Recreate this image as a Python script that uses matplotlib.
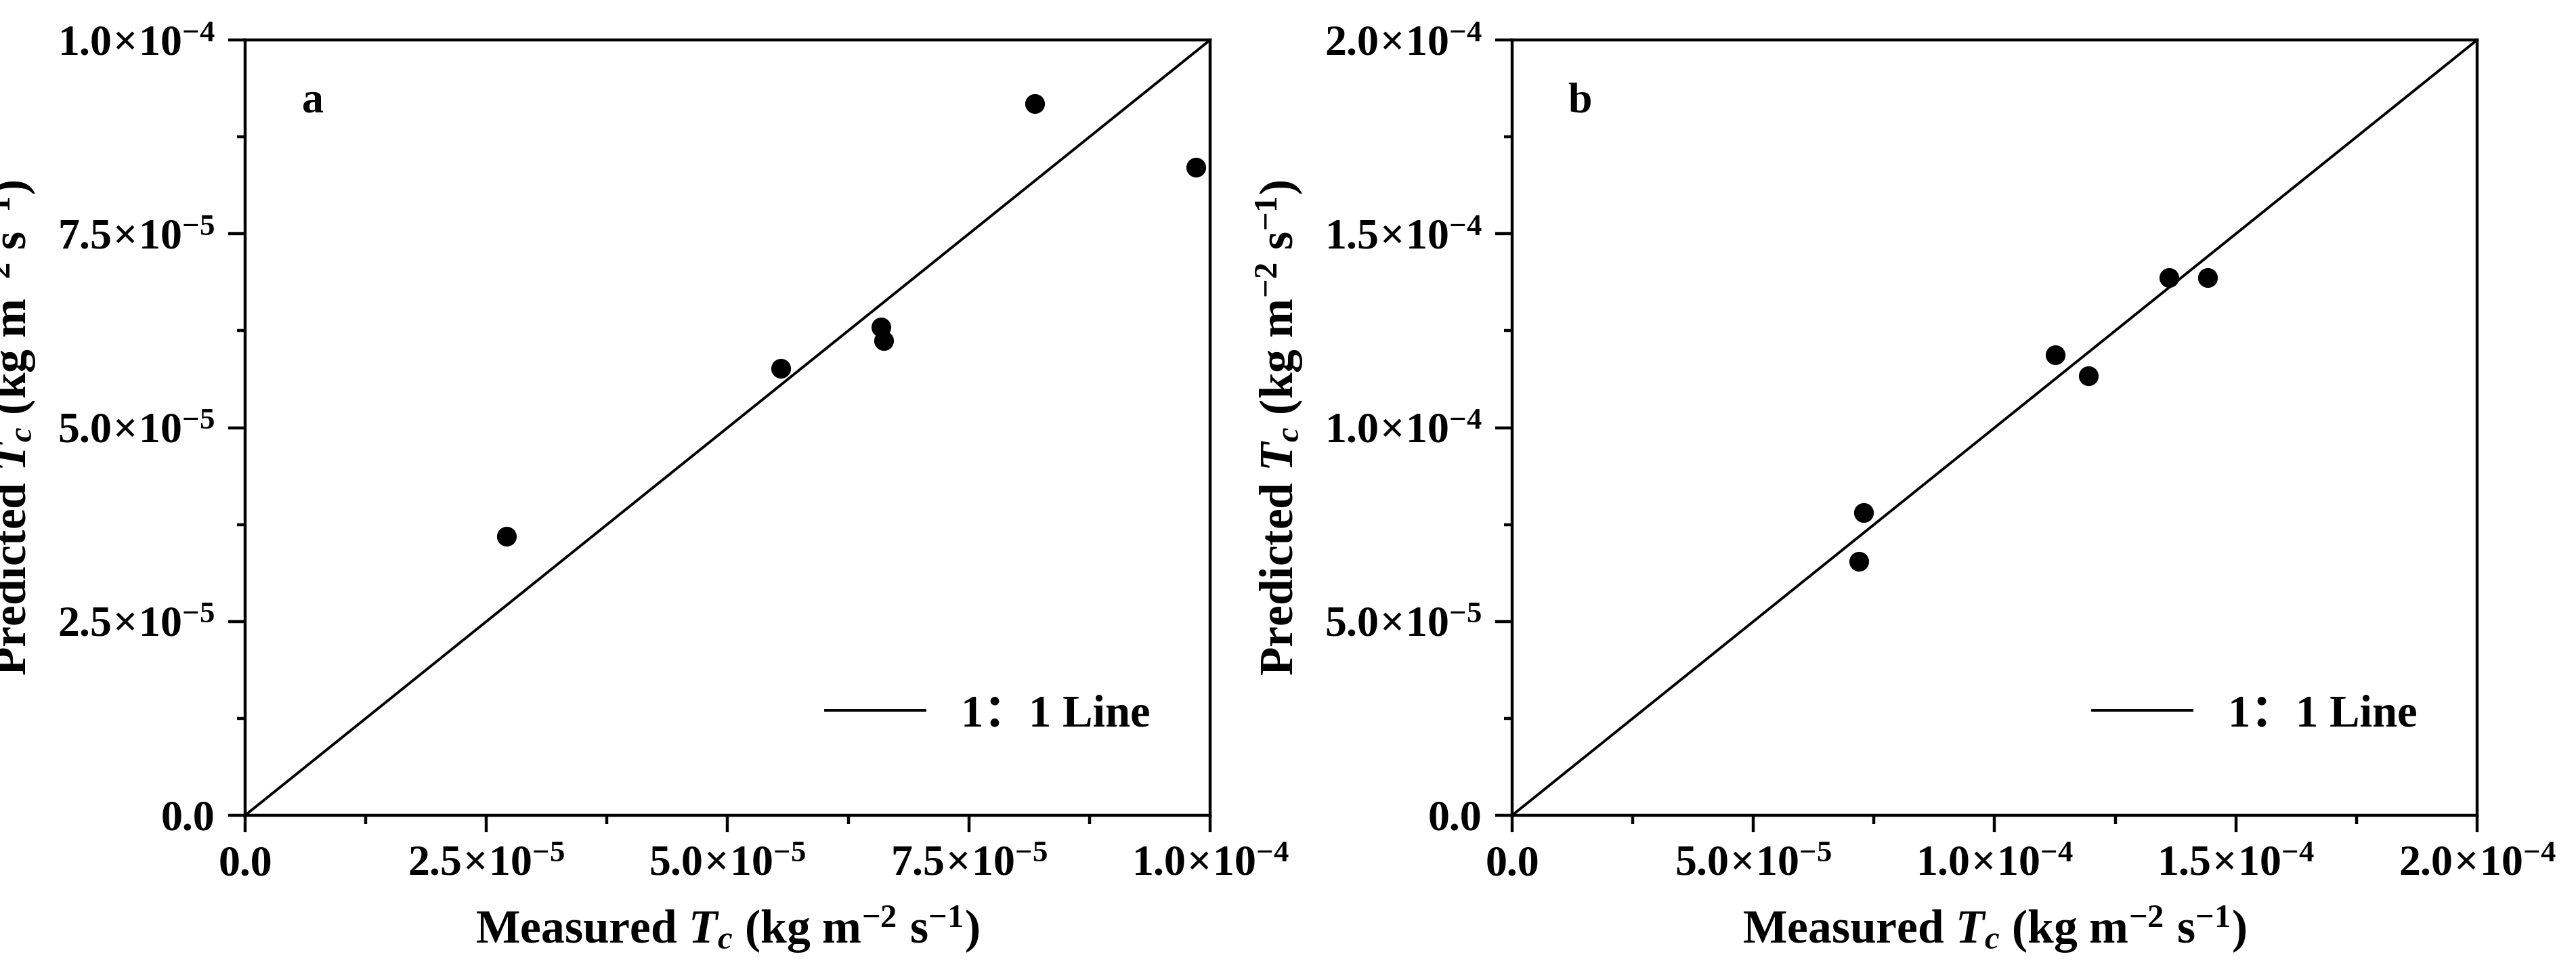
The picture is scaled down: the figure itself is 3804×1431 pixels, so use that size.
import matplotlib
matplotlib.use("Agg")
import matplotlib.pyplot as plt
from matplotlib.ticker import FixedLocator, AutoMinorLocator, FuncFormatter

# Panel a
meas_a = [2.71e-5, 5.55e-5, 6.59e-5, 6.62e-5, 8.18e-5, 9.85e-5]
pred_a = [3.60e-5, 5.76e-5, 6.30e-5, 6.12e-5, 9.18e-5, 8.36e-5]
ticks_a = [0.0, 2.5e-5, 5.0e-5, 7.5e-5, 1.0e-4]
lim_a = 1.0e-4

# Panel b
meas_b = [7.19e-5, 7.29e-5, 1.125e-4, 1.195e-4, 1.362e-4, 1.441e-4]
pred_b = [6.55e-5, 7.81e-5, 1.187e-4, 1.133e-4, 1.387e-4, 1.387e-4]
ticks_b = [0.0, 5.0e-5, 1.0e-4, 1.5e-4, 2.0e-4]
lim_b = 2.0e-4

plt.rcParams["font.family"] = ["Liberation Serif", "Noto Sans CJK SC"]
plt.rcParams["font.weight"] = "bold"
plt.rcParams["mathtext.fontset"] = "custom"
plt.rcParams["mathtext.rm"] = "Liberation Serif:bold"
plt.rcParams["mathtext.it"] = "Liberation Serif:bold:italic"
plt.rcParams["mathtext.bf"] = "Liberation Serif:bold"

FS = 46


def sci(v, pos=None):
    if v == 0:
        return "0.0"
    exp = int(f"{v:e}".split("e")[1])
    mant = v / 10 ** exp
    return r"$%.1f\!\times\!10^{%d}$" % (mant, exp)


fig = plt.figure(figsize=(38.05, 14.31), dpi=100)
W, H = 3805, 1431
panels = [
    (362, meas_a, pred_a, ticks_a, lim_a, "a"),
    (2233, meas_b, pred_b, ticks_b, lim_b, "b"),
]
for left, xs, ys, ticks, lim, tag in panels:
    ax = fig.add_axes([left / W, (H - 1204) / H, 1425 / W, 1145 / H])
    ax.plot([0, lim], [0, lim], color="black", lw=2.8, label="1：1 Line")
    ax.plot(xs, ys, "o", color="black", ms=20, ls="none")
    ax.set_xlim(0, lim)
    ax.set_ylim(0, lim)
    for axis in (ax.xaxis, ax.yaxis):
        axis.set_major_locator(FixedLocator(ticks))
        axis.set_minor_locator(AutoMinorLocator(2))
        axis.set_major_formatter(FuncFormatter(sci))
    ax.tick_params(which="major", direction="out", length=18, width=3.2,
                   labelsize=FS, pad=14)
    ax.tick_params(which="minor", direction="out", length=9, width=3.2)
    for s in ax.spines.values():
        s.set_linewidth(3.2)
    ax.set_xlabel(r"Measured $T_c$ (kg m$^{-2}$ s$^{-1}$)", fontsize=FS + 4,
                  fontweight="bold")
    ax.set_ylabel(r"Predicted $T_c$ (kg m$^{-2}$ s$^{-1}$)", fontsize=FS + 4,
                  fontweight="bold")
    ax.xaxis.set_label_coords(0.5, -0.115)
    ax.yaxis.set_label_coords(-0.215, 0.5)
    ax.text(0.07, 0.92, tag, transform=ax.transAxes, fontsize=FS,
            fontweight="bold", ha="center", va="center")
    ax.legend(loc="lower right", bbox_to_anchor=(0.98, 0.05), frameon=False,
              handlelength=2.2, prop={"weight": "bold", "size": FS + 2})

fig.savefig("out.png", dpi=100)
